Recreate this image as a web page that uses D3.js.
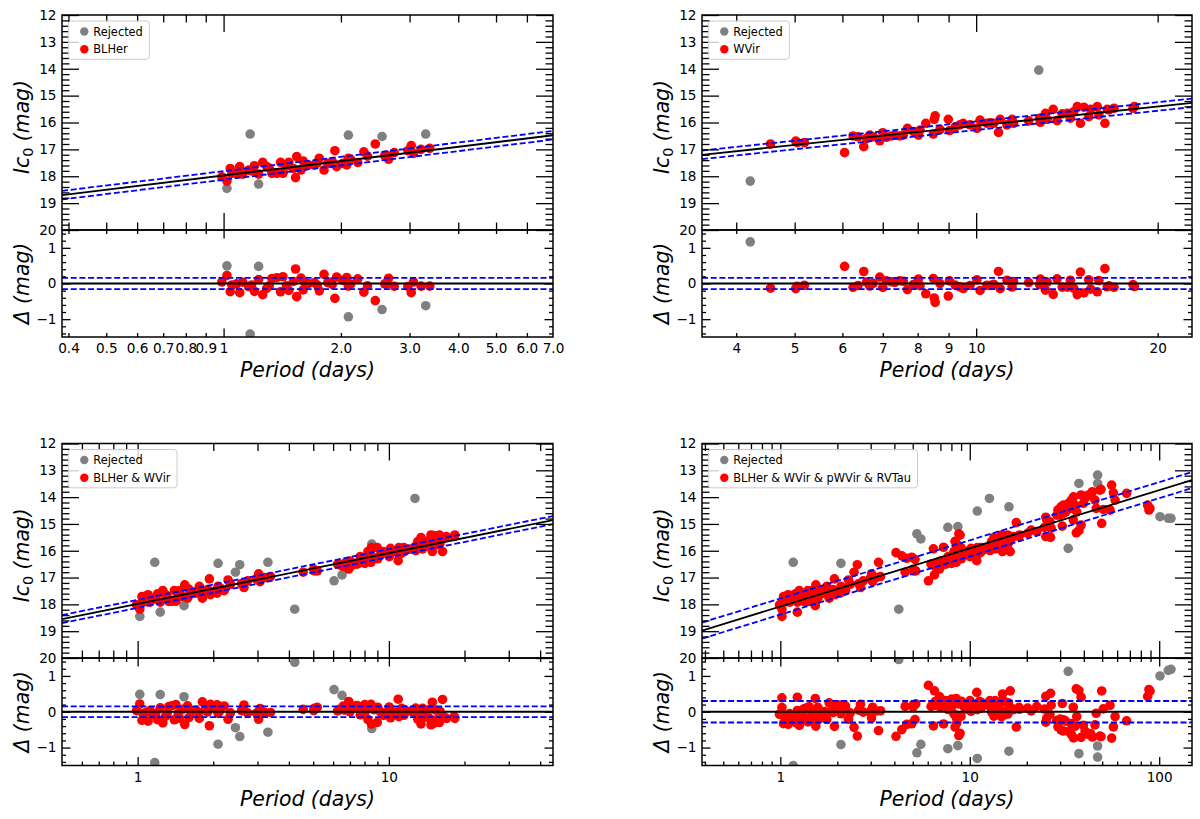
<!DOCTYPE html>
<html><head><meta charset="utf-8">
<script src="https://cdn.jsdelivr.net/npm/d3@7"></script>
<style>body{margin:0;background:#fff}svg{display:block}text{font-family:"DejaVu Sans",sans-serif}</style>
</head><body><svg id="c" width="1200" height="819"></svg>
<script>
// ---------------- DATA (period in days, Ic0 magnitude) ----------------
const blherRed = [[0.99,18.02],[1.02,18.18],[1.04,17.71],[1.05,17.89],[1.08,17.90],[1.10,17.64],[1.12,17.92],[1.16,17.77],[1.18,17.80],[1.20,17.61],[1.23,17.92],[1.26,17.48],[1.29,17.64],[1.31,17.70],[1.33,17.89],[1.37,17.89],[1.40,17.48],[1.42,17.89],[1.45,17.62],[1.47,17.48],[1.51,17.71],[1.53,18.05],[1.54,17.27],[1.58,17.77],[1.60,17.43],[1.62,17.62],[1.65,17.58],[1.71,17.58],[1.74,17.50],[1.76,17.33],[1.81,17.77],[1.85,17.52],[1.89,17.52],[1.90,17.45],[1.93,17.05],[1.95,17.64],[2.02,17.52],[2.07,17.58],[2.09,17.33],[2.12,17.38],[2.21,17.49],[2.29,17.09],[2.34,17.25],[2.45,16.80],[2.59,17.23],[2.62,17.22],[2.65,17.37],[2.74,17.12],[2.97,17.05],[3.03,16.86],[3.07,17.15],[3.21,17.00],[3.38,16.96]];
const blherRejected = [[1.02,18.45],[1.17,16.43],[1.23,18.29],[2.09,16.47],[2.55,16.52],[3.30,16.43]];
const wvirRed = [[4.56,16.80],[5.02,16.69],[5.05,16.75],[5.19,16.75],[6.05,17.12],[6.25,16.50],[6.37,16.53],[6.51,16.90],[6.58,16.59],[6.66,16.47],[6.75,16.53],[6.92,16.68],[7.00,16.38],[7.10,16.55],[7.24,16.50],[7.33,16.47],[7.47,16.50],[7.57,16.47],[7.69,16.22],[7.87,16.34],[8.02,16.47],[8.07,16.28],[8.25,16.03],[8.49,16.43],[8.52,15.88],[8.55,15.75],[8.71,16.26],[8.99,15.88],[9.03,16.30],[9.23,16.16],[9.40,16.09],[9.52,16.03],[9.77,16.09],[10.03,16.22],[10.15,15.91],[10.42,16.03],[10.55,16.01],[10.69,16.03],[10.89,16.37],[10.96,15.88],[11.25,16.09],[11.47,15.88],[11.53,16.03],[12.22,15.94],[12.74,15.84],[12.78,15.99],[13.03,15.66],[13.11,15.88],[13.42,15.51],[13.62,15.93],[13.89,15.68],[14.16,15.66],[14.33,15.84],[14.52,15.60],[14.71,15.41],[14.89,16.03],[15.09,15.43],[15.37,15.78],[15.48,15.51],[15.88,15.41],[15.98,15.72],[16.35,16.03],[16.50,15.51],[16.6,15.53],[16.93,15.47],[18.2,15.47],[18.3,15.41]];
const wvirRejected = [[4.22,18.18],[12.7,14.05]];
// stars that become rejected when BLHer and WVir are fitted together
const combinedNewRejected = [[1.53,18.05],[2.45,16.80],[6.05,17.12],[6.51,16.90],[8.55,15.75]];
// rejected stars of the fit over all types
const allTypesRejected = [[1.17,16.43],[2.09,16.47],[4.22,18.18],[12.7,14.05],[5.26,15.37],[5.52,15.56],[7.66,15.13],[8.65,15.10],[10.96,14.52],[16.1,14.36],[33.1,15.91],[37.7,13.49],[47.3,13.18],[47.3,13.49],[101,14.73],[111.7,14.79],[115.4,14.79]];
// additional pWVir and RVTau stars
const pwvirRvtauRed = [[4.08,16.07],[4.38,16.19],[4.65,16.28],[4.94,16.24],[5.14,16.32],[6.43,15.93],[7.27,15.87],[8.36,15.65],[8.76,15.37],[8.89,15.42],[17.6,14.95],[20.2,15.35],[21.1,15.23],[22.6,15.29],[24.8,15.13],[25.2,14.75],[25.5,14.85],[25.2,15.47],[26.5,14.92],[26.7,15.50],[26.9,15.16],[28.8,14.67],[29.2,14.48],[30.0,14.67],[30.3,14.36],[30.8,15.08],[31.2,14.30],[31.2,14.61],[32.1,14.55],[33.2,14.23],[34.3,14.42],[34.4,14.11],[35.2,14.85],[35.3,13.99],[36.0,14.30],[36.5,15.33],[36.7,14.55],[37.7,15.25],[38.7,13.92],[38.7,15.04],[39.8,14.23],[40.6,14.05],[42.3,13.92],[43.4,13.92],[44.4,13.80],[45.8,14.11],[46.5,14.42],[48.7,13.74],[49.3,13.71],[49.7,14.98],[50.7,14.46],[55.0,14.48],[56.1,13.55],[57.3,13.84],[58.5,14.11],[67.3,13.86],[86.9,14.30],[88.3,14.48],[89.4,14.42]];

// fit lines: mag = intercept + slope*log10(P), and scatter (sigma)
const fitIntercepts = [17.97, 18.50, 17.98, 18.08];
const fitSlopes = [-1.77, -2.38, -1.89, -2.17];
const fitSigmas = [0.16, 0.16, 0.15, 0.30];
const legendNames = ["BLHer", "WVir", "BLHer & WVir", "BLHer & WVir & pWVir & RVTau"];

// tick labels
const p1TickVals = [0.4,0.5,0.6,0.7,0.8,0.9,1,2,3,4,5,6,7];
const p1TickText = ["0.4","0.5","0.6","0.7","0.8","0.9","1","2.0","3.0","4.0","5.0","6.0","7.0"];
const p2TickVals = [4,5,6,7,8,9,10,20];
const p2TickText = ["4","5","6","7","8","9","10","20"];
const p3TickVals = [1,10];
const p3TickText = ["1","10"];
const p4TickVals = [1,10,100];
const p4TickText = ["1","10","100"];
const magTickVals = [12,13,14,15,16,17,18,19,20];
const resTickVals = [-1,0,1];
const resTickText = ["\u22121","0","1"];

// ---------------- derived sets ----------------
const key = d => d[0] + "|" + d[1];
const member = arr => { const s = new Set(arr.map(key)); return d => s.has(key(d)); };
const isNewRej = member(combinedNewRejected);
const p3Red = blherRed.concat(wvirRed).filter(d => !isNewRej(d));
const p3Rej = blherRejected.concat(wvirRejected, combinedNewRejected);
const isRej4 = member(allTypesRejected);
const p4Red = p3Red.concat(p3Rej.filter(d => !isRej4(d)), pwvirRvtauRed);

// ---------------- layout ----------------
const panels = [
  {x0:62, x1:553, yT:15, yS:230, yB:337, dom:[0.385,7.0], red:blherRed, rej:blherRejected, tv:p1TickVals, tt:p1TickText},
  {x0:702, x1:1192, yT:15, yS:230, yB:337, dom:[3.51,22.8], red:wvirRed, rej:wvirRejected, tv:p2TickVals, tt:p2TickText},
  {x0:62, x1:553, yT:443.5, yS:658, yB:765.5, dom:[0.5,45], red:p3Red, rej:p3Rej, tv:p3TickVals, tt:p3TickText},
  {x0:702, x1:1192, yT:443.5, yS:658, yB:765.5, dom:[0.386,149], red:p4Red, rej:allTypesRejected, tv:p4TickVals, tt:p4TickText}
];
const RED = "#ff0000", GREY = "#808080", BLUE = "#0000ff", R = 4.8;
const TOP_MAJ = 17, TOP_MIN = 7.5, RES_MAJ = 8.5, RES_MIN = 4;
const DASH = "6,2.7";
const svg = d3.select("#c");
const defs = svg.append("defs");

const magMinor = [], resMinor = [];
for (let i = 0; i <= 40; i++) if (i % 5) magMinor.push(+(12 + i * 0.2).toFixed(1));
for (let i = -7; i <= 7; i++) if (i % 5) resMinor.push(+(i * 0.2).toFixed(1));

panels.forEach((p, idx) => {
  const g = svg.append("g");
  const x = d3.scaleLog().domain(p.dom).range([p.x0, p.x1]);
  const yM = d3.scaleLinear().domain([12, 20]).range([p.yT, p.yS]);
  const yR = d3.scaleLinear().domain([-1.5, 1.5]).range([p.yB, p.yS]);
  const a = fitIntercepts[idx], b = fitSlopes[idx], s = fitSigmas[idx];
  const fit = P => a + b * Math.log10(P);
  const res = d => d[1] - fit(d[0]);

  // decade / minor x ticks
  const xMaj = [], xMin = [];
  for (let k = -1; k <= 2; k++) for (let m = 1; m <= 9; m++) {
    const v = m * Math.pow(10, k);
    if (v > p.dom[0] * 1.0001 && v < p.dom[1] * 0.9999) (m === 1 ? xMaj : xMin).push(v);
  }

  defs.append("clipPath").attr("id", "ct" + idx).append("rect")
    .attr("x", p.x0).attr("y", p.yT).attr("width", p.x1 - p.x0).attr("height", p.yS - p.yT);
  defs.append("clipPath").attr("id", "cr" + idx).append("rect")
    .attr("x", p.x0).attr("y", p.yS).attr("width", p.x1 - p.x0).attr("height", p.yB - p.yS);

  // top panel
  const top = g.append("g").attr("clip-path", `url(#ct${idx})`);
  top.selectAll("circle.rej").data(p.rej).join("circle").attr("class", "rej")
    .attr("cx", d => x(d[0])).attr("cy", d => yM(d[1])).attr("r", R).attr("fill", GREY);
  top.selectAll("circle.red").data(p.red).join("circle").attr("class", "red")
    .attr("cx", d => x(d[0])).attr("cy", d => yM(d[1])).attr("r", R).attr("fill", RED);
  [[0, "#000", null], [s, BLUE, DASH], [-s, BLUE, DASH]].forEach(([off, col, dash]) => {
    top.append("path").datum(p.dom)
      .attr("d", d3.line().x(d => x(d)).y(d => yM(fit(d) + off)))
      .attr("stroke", col).attr("stroke-width", 1.8).attr("fill", "none")
      .attr("stroke-dasharray", dash);
  });

  // residual panel
  const bot = g.append("g").attr("clip-path", `url(#cr${idx})`);
  bot.selectAll("circle.rej").data(p.rej).join("circle").attr("class", "rej")
    .attr("cx", d => x(d[0])).attr("cy", d => yR(res(d))).attr("r", R).attr("fill", GREY);
  bot.selectAll("circle.red").data(p.red).join("circle").attr("class", "red")
    .attr("cx", d => x(d[0])).attr("cy", d => yR(res(d))).attr("r", R).attr("fill", RED);
  [[0, "#000", null], [s, BLUE, DASH], [-s, BLUE, DASH]].forEach(([off, col, dash]) => {
    bot.append("path").datum(p.dom)
      .attr("d", d3.line().x(d => x(d)).y(() => yR(off)))
      .attr("stroke", col).attr("stroke-width", 1.8).attr("fill", "none")
      .attr("stroke-dasharray", dash);
  });

  // ticks
  function tk(gen, scale, vals, len, tx, ty) {
    const gg = g.append("g").attr("transform", `translate(${tx},${ty})`)
      .call(gen(scale).tickValues(vals).tickSizeInner(-len).tickSizeOuter(0).tickFormat(""));
    gg.select(".domain").remove();
    gg.selectAll("line").attr("stroke", "#000").attr("stroke-width", 1.3);
  }
  [[yM, magTickVals, magMinor, TOP_MAJ, TOP_MIN], [yR, resTickVals, resMinor, RES_MAJ, RES_MIN]].forEach(([sc, mj, mn, LM, Lm]) => {
    tk(d3.axisLeft, sc, mj, LM, p.x0, 0); tk(d3.axisLeft, sc, mn, Lm, p.x0, 0);
    tk(d3.axisRight, sc, mj, LM, p.x1, 0); tk(d3.axisRight, sc, mn, Lm, p.x1, 0);
  });
  [[p.yT, d3.axisTop, TOP_MAJ, TOP_MIN], [p.yS, d3.axisBottom, TOP_MAJ, TOP_MIN],
   [p.yS, d3.axisTop, RES_MAJ, RES_MIN], [p.yB, d3.axisBottom, RES_MAJ, RES_MIN]].forEach(([yy, gen, LM, Lm]) => {
    tk(gen, x, xMaj, LM, 0, yy); tk(gen, x, xMin, Lm, 0, yy);
  });

  // tick labels
  function lab(gen, scale, vals, fmt, tx, ty, pad) {
    const gg = g.append("g").attr("transform", `translate(${tx},${ty})`)
      .call(gen(scale).tickValues(vals).tickSize(0).tickPadding(pad).tickFormat(fmt));
    gg.select(".domain").remove();
    gg.attr("font-size", 13.6).attr("font-family", "DejaVu Sans");
    gg.selectAll("text").attr("fill", "#000");
  }
  lab(d3.axisLeft, yM, magTickVals, d => String(d), p.x0, 0, 5.5);
  lab(d3.axisLeft, yR, resTickVals, (d, i) => resTickText[i], p.x0, 0, 5.5);
  lab(d3.axisBottom, x, p.tv, (d, i) => p.tt[i], 0, p.yB, 6.5);

  // frames
  [[p.yT, p.yS], [p.yS, p.yB]].forEach(([ya, yb]) => {
    g.append("rect").attr("x", p.x0).attr("y", ya).attr("width", p.x1 - p.x0).attr("height", yb - ya)
      .attr("fill", "none").attr("stroke", "#000").attr("stroke-width", 1.5);
  });

  // axis labels
  g.append("text").attr("x", (p.x0 + p.x1) / 2).attr("y", p.yB + 40)
    .attr("text-anchor", "middle").attr("font-size", 20.4).attr("font-style", "italic")
    .text("Period (days)");
  const yl = g.append("text").attr("transform", `translate(${p.x0 - 33.5},${(p.yT + p.yS) / 2 + 4.5}) rotate(-90)`)
    .attr("text-anchor", "middle").attr("font-size", 20.4).attr("font-style", "italic");
  yl.append("tspan").text("Ic");
  yl.append("tspan").attr("font-size", 14.3).attr("font-style", "normal").attr("dy", 4).text("0");
  yl.append("tspan").attr("dy", -4).text(" (mag)");
  g.append("text").attr("transform", `translate(${p.x0 - 33.5},${(p.yS + p.yB) / 2}) rotate(-90)`)
    .attr("text-anchor", "middle").attr("font-size", 20.4).attr("font-style", "italic")
    .text("\u0394 (mag)");

  // legend
  const lx = p.x0 + 6.3, ly = p.yT + 6;
  const lg = g.append("g");
  const box = lg.append("rect").attr("x", lx).attr("y", ly).attr("height", 38.3).attr("rx", 3)
    .attr("fill", "#fff").attr("fill-opacity", 0.8).attr("stroke", "#cccccc").attr("stroke-width", 1);
  let maxW = 0;
  [["Rejected", GREY, 10.5], [legendNames[idx], RED, 28.3]].forEach(([t, c, dy]) => {
    lg.append("circle").attr("cx", lx + 16).attr("cy", ly + dy).attr("r", 4.2).attr("fill", c);
    const tx = lg.append("text").attr("x", lx + 25).attr("y", ly + dy + 4)
      .attr("font-size", 11.4).attr("fill", "#000").text(t);
    maxW = Math.max(maxW, tx.node().getComputedTextLength());
  });
  box.attr("width", 25 + maxW + 6.5);
});
</script></body></html>
